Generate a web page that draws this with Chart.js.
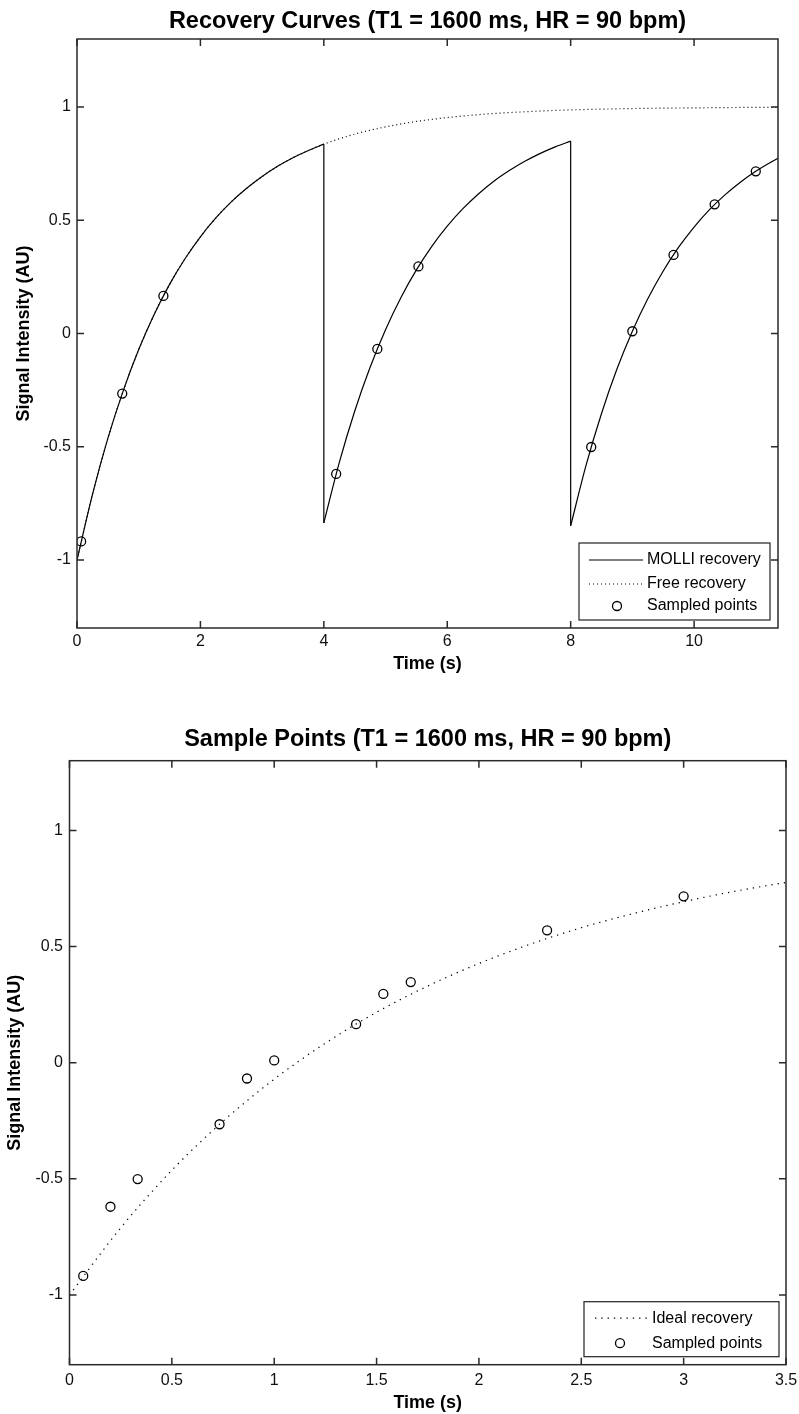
<!DOCTYPE html>
<html><head><meta charset="utf-8">
<script src="https://cdn.jsdelivr.net/npm/chart.js@4.4.1/dist/chart.umd.min.js"></script>
<style>
html,body{margin:0;padding:0;background:#fff;width:799px;height:1414px;overflow:hidden}
canvas{position:absolute;left:0}
#c1{top:0}
#c2{top:700px}
</style></head><body>
<canvas id="c1" width="799" height="700"></canvas>
<canvas id="c2" width="799" height="714"></canvas>
<script>
// ---------- data ----------
const topTitle = 'Recovery Curves (T1 = 1600 ms, HR = 90 bpm)';
const bottomTitle = 'Sample Points (T1 = 1600 ms, HR = 90 bpm)';
const xAxisTitle = 'Time (s)';
const yAxisTitle = 'Signal Intensity (AU)';

// Free recovery (dotted), top chart
const freeT = [0,0.25,0.5,0.75,1,1.25,1.5,1.75,2,2.25,2.5,2.75,3,3.25,3.5,3.75,4,4.5,5,5.5,6,6.5,7,7.5,8,9,10,11,11.36];
const freeY = [-1,-0.711,-0.463,-0.252,-0.071,0.084,0.217,0.330,0.427,0.510,0.581,0.641,0.693,0.738,0.776,0.808,0.836,0.880,0.912,0.936,0.953,0.966,0.975,0.982,0.987,0.993,0.996,0.998,0.998];

// MOLLI recovery (solid), with inversions at 4 s and 8 s
const molliT = [0,0.25,0.5,0.75,1,1.25,1.5,1.75,2,2.25,2.5,2.75,3,3.25,3.5,3.75,4,
                4,4.25,4.5,4.75,5,5.25,5.5,5.75,6,6.25,6.5,6.75,7,7.25,7.5,7.75,8,
                8,8.25,8.5,8.75,9,9.25,9.5,9.75,10,10.25,10.5,10.75,11,11.25,11.36];
const molliY = [-1,-0.711,-0.463,-0.252,-0.071,0.084,0.217,0.330,0.427,0.510,0.581,0.641,0.693,0.738,0.776,0.808,0.836,
                -0.836,-0.570,-0.343,-0.149,0.017,0.159,0.281,0.385,0.474,0.550,0.615,0.671,0.718,0.759,0.794,0.824,0.849,
                -0.849,-0.581,-0.353,-0.157,0.010,0.153,0.276,0.381,0.470,0.547,0.612,0.668,0.716,0.757,0.773];

// Sampled points, top chart (absolute time)
const sampleT = [0.067,0.733,1.4,4.2,4.867,5.533,8.333,9.0,9.667,10.333,11.0];
const sampleY = [-0.918,-0.265,0.166,-0.620,-0.068,0.296,-0.501,0.010,0.347,0.570,0.716];

// Bottom chart: ideal recovery and sampled points (time after inversion)
const idealT = [0,0.25,0.5,0.75,1,1.25,1.5,1.75,2,2.25,2.5,2.75,3,3.25,3.5];
const idealY = [-1,-0.711,-0.463,-0.252,-0.071,0.084,0.217,0.330,0.427,0.510,0.581,0.641,0.693,0.738,0.776];
const tiT = [0.067,0.2,0.333,0.733,0.867,1.0,1.4,1.533,1.667,2.333,3.0];
const tiY = [-0.918,-0.620,-0.501,-0.265,-0.068,0.010,0.166,0.296,0.347,0.570,0.716];

// Ticks
const topXTicks = [0,2,4,6,8,10];
const topXLabels = ['0','2','4','6','8','10'];
const bottomXTicks = [0,0.5,1,1.5,2,2.5,3,3.5];
const bottomXLabels = ['0','0.5','1','1.5','2','2.5','3','3.5'];
const yTicks = [-1,-0.5,0,0.5,1];
const yLabels = ['-1','-0.5','0','0.5','1'];

const legendTop = ['MOLLI recovery','Free recovery','Sampled points'];
const legendBottom = ['Ideal recovery','Sampled points'];

// ---------- helpers ----------
const FONT = "'Liberation Sans', Arial, Helvetica, sans-serif";
Chart.defaults.font.family = FONT;
Chart.defaults.color = '#000';

const pts = (ts, ys) => ts.map((t, i) => ({x: t, y: ys[i]}));
function splitRuns(ts, ys) {
  const runs = [[]], drops = [];
  for (let i = 0; i < ts.length; i++) {
    if (i > 0 && ts[i] === ts[i - 1]) {
      drops.push([{x: ts[i - 1], y: ys[i - 1]}, {x: ts[i], y: ys[i]}]);
      runs.push([]);
    }
    runs[runs.length - 1].push({x: ts[i], y: ys[i]});
  }
  return {runs, drops};
}
function fixTicks(values) {
  return (scale) => { scale.ticks = values.map(v => ({value: v})); };
}
function labelFor(values, labels) {
  return (v) => { const i = values.indexOf(v); return i >= 0 ? labels[i] : ''; };
}

const SOLID = {borderColor: '#000', borderWidth: 1.2};
const markerStyle = {showLine: false, pointRadius: 4.5, pointHoverRadius: 4.5, pointStyle: 'circle',
  pointBorderWidth: 1.3, pointBorderColor: '#000', pointBackgroundColor: 'rgba(0,0,0,0)'};

// Frame, inward ticks and legend (MATLAB-like)
const framePlugin = {
  id: 'frame',
  afterDraw(chart, args, o) {
    const {ctx, chartArea: a} = chart;
    const x = chart.scales.x, y = chart.scales.y;
    const L = o.tickLen;
    ctx.save();
    ctx.strokeStyle = '#2a2a2a';
    ctx.lineWidth = 1.5;
    ctx.strokeRect(a.left, a.top, a.right - a.left, a.bottom - a.top);
    ctx.beginPath();
    x.ticks.forEach(t => {
      const px = x.getPixelForValue(t.value);
      ctx.moveTo(px, a.bottom); ctx.lineTo(px, a.bottom - L);
      ctx.moveTo(px, a.top); ctx.lineTo(px, a.top + L);
    });
    y.ticks.forEach(t => {
      const py = y.getPixelForValue(t.value);
      ctx.moveTo(a.left, py); ctx.lineTo(a.left + L, py);
      ctx.moveTo(a.right, py); ctx.lineTo(a.right - L, py);
    });
    ctx.stroke();

    // legend
    const lg = o.legend;
    const bx = a.right - lg.right - lg.w, by = a.bottom - lg.bottom - lg.h;
    ctx.fillStyle = '#fff';
    ctx.fillRect(bx, by, lg.w, lg.h);
    ctx.lineWidth = 1.2;
    ctx.strokeStyle = '#222';
    ctx.strokeRect(bx, by, lg.w, lg.h);
    ctx.font = '16px ' + FONT;
    ctx.textBaseline = 'middle';
    ctx.textAlign = 'left';
    lg.rows.forEach(r => {
      const ry = by + r.dy;
      ctx.strokeStyle = '#000';
      if (r.kind === 'solid' || r.kind === 'dotted') {
        ctx.beginPath();
        ctx.lineWidth = 1.2;
        ctx.setLineDash(r.kind === 'dotted' ? lg.dash : []);
        ctx.moveTo(bx + lg.lx0, ry); ctx.lineTo(bx + lg.lx1, ry);
        ctx.stroke();
        ctx.setLineDash([]);
      } else {
        ctx.beginPath();
        ctx.lineWidth = 1.3;
        ctx.arc(bx + lg.cx, ry, 4.5, 0, Math.PI * 2);
        ctx.stroke();
      }
      ctx.fillStyle = '#000';
      ctx.fillText(r.label, bx + lg.tx, ry);
    });
    ctx.restore();
  }
};

function axisOpts(cfg) {
  return {
    x: {
      type: 'linear', min: cfg.xmin, max: cfg.xmax,
      afterBuildTicks: fixTicks(cfg.xTicks),
      afterFit: (s) => { s.height = cfg.xH; s.paddingLeft = 0; s.paddingRight = 0; },
      grid: {display: false, drawTicks: false},
      border: {display: false},
      ticks: {font: {size: 16}, color: '#111', padding: cfg.xPad, maxRotation: 0, autoSkip: false,
        callback: labelFor(cfg.xTicks, cfg.xLabels)},
      title: {display: true, text: xAxisTitle, font: {size: 18, weight: 'bold'}, color: '#000',
        padding: {top: 0, bottom: cfg.xTitlePad}}
    },
    y: {
      type: 'linear', min: -1.3, max: 1.3,
      afterBuildTicks: fixTicks(yTicks),
      afterFit: (s) => { s.width = cfg.yW; s.paddingTop = 0; s.paddingBottom = 0; },
      grid: {display: false, drawTicks: false},
      border: {display: false},
      ticks: {font: {size: 16}, color: '#111', padding: cfg.yPad, autoSkip: false,
        callback: labelFor(yTicks, yLabels)},
      title: {display: true, text: yAxisTitle, font: {size: 18, weight: 'bold'}, color: '#000',
        padding: {top: cfg.yTitlePad, bottom: 0}}
    }
  };
}

// ---------- top chart ----------
const molli = splitRuns(molliT, molliY);
const topSets = [
  Object.assign({label: legendTop[1], data: pts(freeT, freeY), showLine: true, pointRadius: 0,
    cubicInterpolationMode: 'monotone', borderDash: [1, 3], fill: false}, SOLID)
];
molli.runs.forEach(r => topSets.push(Object.assign({label: legendTop[0], data: r, showLine: true,
  pointRadius: 0, cubicInterpolationMode: 'monotone', fill: false}, SOLID)));
molli.drops.forEach(d => topSets.push(Object.assign({label: legendTop[0], data: d, showLine: true,
  pointRadius: 0, tension: 0, fill: false}, SOLID)));
topSets.push(Object.assign({label: legendTop[2], data: pts(sampleT, sampleY)}, markerStyle));

new Chart(document.getElementById('c1'), {
  type: 'scatter',
  data: {datasets: topSets},
  options: {
    responsive: false, animation: false, events: [],
    layout: {padding: {left: 0, right: 21, top: 0, bottom: 0}},
    scales: axisOpts({xmin: 0, xmax: 11.36, xTicks: topXTicks, xLabels: topXLabels,
      xH: 72, xPad: 4, xTitlePad: 25, yW: 77, yPad: 6, yTitlePad: 13}),
    plugins: {
      legend: {display: false}, tooltip: {enabled: false},
      title: {display: true, fullSize: false, text: topTitle, color: '#000', font: {size: 23.5, weight: 'bold'},
        padding: {top: 7.5, bottom: 3.3}},
      frame: {tickLen: 7, legend: {right: 8, bottom: 8, w: 191, h: 77, lx0: 10, lx1: 64, tx: 68, cx: 38,
        dash: [1, 3],
        rows: [{label: legendTop[0], kind: 'solid', dy: 17}, {label: legendTop[1], kind: 'dotted', dy: 41},
               {label: legendTop[2], kind: 'marker', dy: 63}]}}
    }
  },
  plugins: [framePlugin]
});

// ---------- bottom chart ----------
new Chart(document.getElementById('c2'), {
  type: 'scatter',
  data: {datasets: [
    Object.assign({label: legendBottom[0], data: pts(idealT, idealY), showLine: true, pointRadius: 0,
      cubicInterpolationMode: 'monotone', borderDash: [1.3, 5], fill: false}, SOLID),
    Object.assign({label: legendBottom[1], data: pts(tiT, tiY)}, markerStyle)
  ]},
  options: {
    responsive: false, animation: false, events: [],
    layout: {padding: {left: 0, right: 13, top: 0, bottom: 0}},
    scales: axisOpts({xmin: 0, xmax: 3.5, xTicks: bottomXTicks, xLabels: bottomXLabels,
      xH: 49.3, xPad: 6, xTitlePad: 0, yW: 69.5, yPad: 6.5, yTitlePad: 4.2}),
    plugins: {
      legend: {display: false}, tooltip: {enabled: false},
      title: {display: true, fullSize: false, text: bottomTitle, color: '#000', font: {size: 23.5, weight: 'bold'},
        padding: {top: 25, bottom: 7.5}},
      frame: {tickLen: 7, legend: {right: 7, bottom: 8, w: 195, h: 55, lx0: 11, lx1: 64, tx: 68, cx: 36,
        dash: [1.3, 5],
        rows: [{label: legendBottom[0], kind: 'dotted', dy: 16.5}, {label: legendBottom[1], kind: 'marker', dy: 41.5}]}}
    }
  },
  plugins: [framePlugin]
});
</script>
</body></html>
